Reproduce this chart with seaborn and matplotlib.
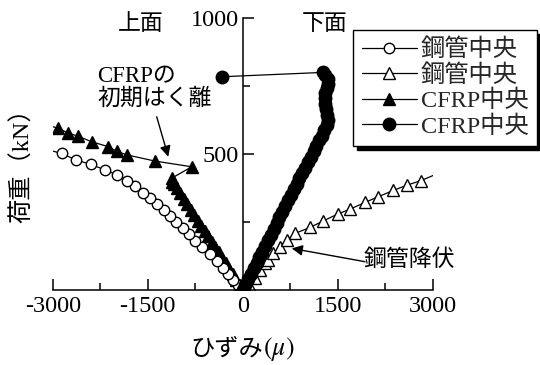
import matplotlib
matplotlib.use("Agg")
import matplotlib.pyplot as plt
import seaborn as sns

# 鋼管中央（上面）: strain (μ), load (kN)
steel_top_strain = [0, -75, -150, -227, -306, -411, -516, -647, -753, -843, -947, -1053,
                    -1148, -1243, -1358, -1464, -1579, -1700, -1822, -1980, -2170, -2400,
                    -2632, -2858, -3150]
steel_top_load = [0, 18, 38, 58, 80, 105, 132, 157, 181, 206, 227, 251,
                  272, 295, 316, 337, 358, 381, 402, 423, 441, 462,
                  478, 502, 520]

# 鋼管中央（下面）
steel_bot_strain = [0, 95, 194, 273, 352, 404, 483, 589, 700, 826, 1063, 1273, 1497,
                    1694, 1931, 2141, 2378, 2600, 2814, 3150]
steel_bot_load = [0, 18, 45, 74, 98, 112, 135, 159, 184, 208, 230, 254, 279,
                  297, 322, 343, 366, 386, 402, 435]

# CFRP中央（上面）
cfrp_top_strain = [0, -50, -105, -160, -215, -270, -325, -380, -435, -490, -545, -600,
                   -655, -710, -765, -820, -875, -930, -985, -1040, -1090, -1110, -1121,
                   -805, -1385, -1833, -1990, -2122, -2385, -2596, -2754, -2912, -3150]
cfrp_top_load = [0, 18, 38, 58, 78, 98, 118, 138, 158, 178, 197, 216,
                 236, 255, 275, 295, 315, 335, 355, 376, 390, 398, 411,
                 453, 474, 497, 510, 527, 545, 565, 577, 594, 612]

# CFRP中央（下面）
cfrp_bot_strain = [0, 40, 85, 130, 175, 220, 265, 310, 355, 400, 445, 490, 535, 580,
                   625, 670, 715, 760, 805, 850, 895, 940, 985, 1030, 1075, 1120, 1165,
                   1210, 1250, 1290, 1326, 1345, 1330, 1310, 1300, 1300, 1305, 1325,
                   1350, 1340, 1300, 1272, -332]
cfrp_bot_load = [0, 20, 40, 60, 80, 100, 120, 141, 162, 183, 204, 225, 246, 267,
                 288, 309, 330, 350, 370, 390, 410, 430, 450, 470, 490, 510, 530,
                 550, 568, 588, 607, 625, 645, 665, 685, 705, 725, 742,
                 758, 775, 790, 800, 784]

legend_labels = ["鋼管中央", "鋼管中央", "CFRP中央", "CFRP中央"]
xtick_values = [-3000, -1500, 0, 1500, 3000]
xtick_labels = ["-3000", "-1500", "0", "1500", "3000"]
ytick_values = [500, 1000]
ytick_labels = ["500", "1000"]

sns.set_style("white")
FAMILY = ["Liberation Serif", "Noto Sans CJK JP", "DejaVu Sans"]
plt.rcParams["font.family"] = FAMILY
plt.rcParams["mathtext.fontset"] = "stix"
plt.rcParams["axes.unicode_minus"] = False

W, H = 540, 365
fig = plt.figure(figsize=(W / 100, H / 100), dpi=100)
ax = fig.add_axes([52.7 / W, 1 - 290 / H, 380 / W, 272 / H])


def draw(x, y, marker, face, ms):
    sns.lineplot(x=x, y=y, ax=ax, sort=False, estimator=None, color="k",
                 linewidth=0.9, marker=marker, markersize=ms,
                 markerfacecolor=face, markeredgecolor="k", markeredgewidth=1.0,
                 legend=False)
    return ax.lines[-1]


h_ct = draw(cfrp_top_strain, cfrp_top_load, "^", "k", 9)
h_st = draw(steel_top_strain, steel_top_load, "o", "w", 7.5)
h_sb = draw(steel_bot_strain, steel_bot_load, "^", "w", 9)
h_cb = draw(cfrp_bot_strain, cfrp_bot_load, "o", "k", 9)

ax.set_xlim(-3000, 3000)
ax.set_ylim(0, 1000)

# axes cross at the origin: vertical axis sits on strain = 0
for side in ("top", "right"):
    ax.spines[side].set_visible(False)
ax.spines["left"].set_position(("data", 0))
for side in ("left", "bottom"):
    ax.spines[side].set_color("k")
    ax.spines[side].set_linewidth(1.1)

ax.set_xticks(xtick_values)
ax.set_xticklabels(xtick_labels)
ax.set_xticks([-2250, -750, 750, 2250], minor=True)
ax.set_yticks(ytick_values)
ax.set_yticklabels(ytick_labels)
ax.set_yticks([250, 750], minor=True)
ax.tick_params(which="both", direction="in", color="k", width=1.1,
               labelsize=17.5, labelcolor="k", bottom=True, left=True)
ax.tick_params(which="major", length=8)
ax.tick_params(which="minor", length=5)
ax.tick_params(axis="x", which="major", pad=4)
ax.tick_params(axis="y", which="major", pad=3)

leg = ax.legend(handles=[h_st, h_sb, h_ct, h_cb], labels=legend_labels,
                loc="upper left", bbox_to_anchor=(353 / W, 1 - 30 / H),
                bbox_transform=fig.transFigure, frameon=True, fancybox=False,
                shadow={"ox": 3, "oy": -3, "color": "k", "alpha": 1},
                framealpha=1, borderaxespad=0, borderpad=0.35, handlelength=2.3,
                handletextpad=0.15, labelspacing=0.12,
                prop={"family": FAMILY, "size": 17.5})
leg.get_frame().set_edgecolor("k")
leg.get_frame().set_linewidth(1.0)

cjk = {"family": FAMILY, "color": "k"}
fig.text(141 / W, 1 - 25 / H, "上面", ha="center", va="center", fontsize=16.5, **cjk)
fig.text(325 / W, 1 - 25 / H, "下面", ha="center", va="center", fontsize=16.5, **cjk)

fig.text(97 / W, 1 - 77 / H, "CFRPの", ha="left", va="center", fontsize=16.5, **cjk)
fig.text(97 / W, 1 - 99 / H, "初期はく離", ha="left", va="center", fontsize=16.5, **cjk)
ax.annotate("", xy=(-1175, 490), xytext=(-1358, 637),
            arrowprops=dict(arrowstyle="-|>", color="k", lw=1.0,
                            mutation_scale=16, shrinkA=0, shrinkB=0))

fig.text(409 / W, 1 - 260 / H, "鋼管降伏", ha="center", va="center", fontsize=16.5, **cjk)
ax.annotate("", xy=(774, 153), xytext=(1931, 104),
            arrowprops=dict(arrowstyle="-|>", color="k", lw=1.0,
                            mutation_scale=16, shrinkA=0, shrinkB=0))

fig.text(263 / W, 1 - 350 / H, "ひずみ", ha="right", va="center", fontsize=17.5, **cjk)
fig.text(263 / W, 1 - 349 / H, r"$(\mu)$", ha="left", va="center", fontsize=18.5, color="k")
fig.text(22 / W, 1 - 160 / H, "荷重（kN）", ha="center", va="center",
         rotation=90, fontsize=17.5, **cjk)

fig.savefig("out.png", dpi=100, facecolor="white")
